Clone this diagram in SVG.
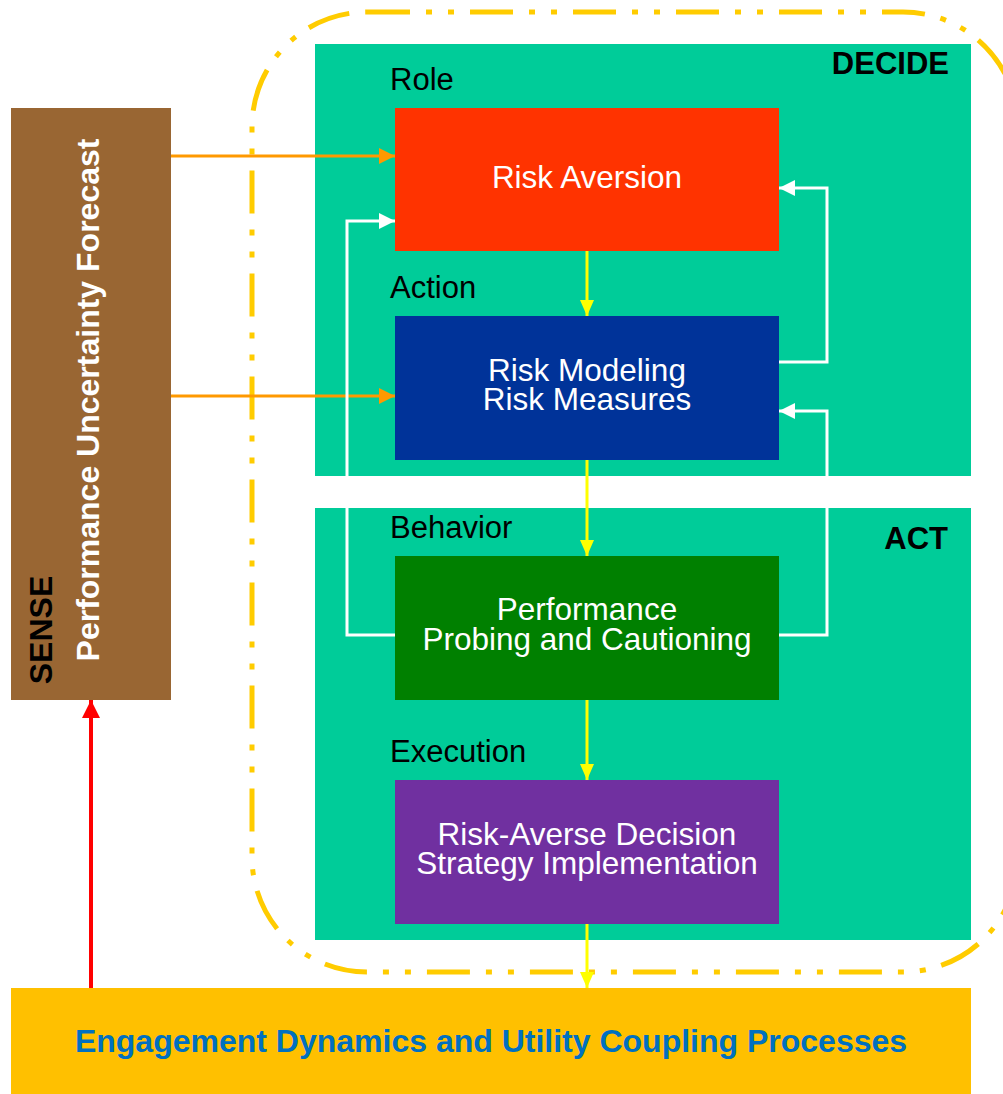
<svg xmlns="http://www.w3.org/2000/svg" width="1003" height="1094" viewBox="0 0 1003 1094">
  <style>
    text { font-family: "Liberation Sans", Arial, sans-serif; font-size: 32px; }
    .lbl { fill: #000000; font-size: 31px; }
    .hdr { fill: #000000; font-weight: bold; text-anchor: end; font-size: 31px; }
    .box-text { fill: #ffffff; text-anchor: middle; font-size: 31.5px; }
    .panel { fill: #00CC99; }
    .c-orange { stroke: #FF9900; stroke-width: 3; fill: none; }
    .c-yellow { stroke: #FFFF00; stroke-width: 3; fill: none; }
    .c-white { stroke: #ffffff; stroke-width: 3; fill: none; }
    .c-red { stroke: #FF0000; stroke-width: 4; fill: none; }
  </style>
  <defs>
    <marker id="ah-orange" markerUnits="userSpaceOnUse" markerWidth="16" markerHeight="16" refX="16" refY="8" orient="auto">
      <path d="M0,0 L16,8 L0,16 Z" fill="#FF9900"/>
    </marker>
    <marker id="ah-yellow" markerUnits="userSpaceOnUse" markerWidth="16" markerHeight="16" refX="16" refY="8" orient="auto">
      <path d="M0,1 L16,8 L0,15 Z" fill="#FFFF00"/>
    </marker>
    <marker id="ah-white" markerUnits="userSpaceOnUse" markerWidth="16" markerHeight="16" refX="16" refY="8" orient="auto">
      <path d="M0,0 L16,8 L0,16 Z" fill="#ffffff"/>
    </marker>
    <marker id="ah-red" markerUnits="userSpaceOnUse" markerWidth="18" markerHeight="18" refX="18" refY="9" orient="auto">
      <path d="M0,0 L18,9 L0,18 Z" fill="#FF0000"/>
    </marker>
  </defs>

  <!-- dash-dot boundary of the decide/act loop (right edge runs past the canvas) -->
  <rect x="252" y="12" width="766" height="960" rx="115" ry="115" fill="none" stroke="#FFCC00" stroke-width="5" stroke-dasharray="43 16 6 16 6 16"/>

  <!-- stage panels -->
  <g id="decide-panel">
    <rect class="panel" x="315" y="44" width="656" height="432"/>
    <text class="hdr" x="949" y="74">DECIDE</text>
  </g>
  <g id="act-panel">
    <rect class="panel" x="315" y="508" width="656" height="432"/>
    <text class="hdr" x="948" y="549">ACT</text>
  </g>

  <!-- sense column -->
  <g id="sense">
    <rect x="11" y="108" width="160" height="592" fill="#996633"/>
    <text transform="translate(52,630) rotate(-90)" text-anchor="middle" font-weight="bold" fill="#000000" font-size="31">SENSE</text>
    <text transform="translate(99,400) rotate(-90)" text-anchor="middle" font-weight="bold" fill="#ffffff">Performance Uncertainty Forecast</text>
  </g>

  <g id="role">
    <text class="lbl" x="390" y="90">Role</text>
    <rect x="395" y="108" width="384" height="143" fill="#FF3300"/>
    <text class="box-text" x="587" y="188">Risk Aversion</text>
  </g>

  <g id="action">
    <text class="lbl" x="390" y="298">Action</text>
    <rect x="395" y="316" width="384" height="144" fill="#003399"/>
    <text class="box-text" x="587" y="381">Risk Modeling</text>
    <text class="box-text" x="587" y="410">Risk Measures</text>
  </g>

  <g id="behavior">
    <text class="lbl" x="390" y="538">Behavior</text>
    <rect x="395" y="556" width="384" height="144" fill="#008000"/>
    <text class="box-text" x="587" y="620">Performance</text>
    <text class="box-text" x="587" y="650">Probing and Cautioning</text>
  </g>

  <g id="execution">
    <text class="lbl" x="390" y="762">Execution</text>
    <rect x="395" y="780" width="384" height="144" fill="#7030A0"/>
    <text class="box-text" x="587" y="845">Risk-Averse Decision</text>
    <text class="box-text" x="587" y="874">Strategy Implementation</text>
  </g>

  <g id="engagement">
    <rect x="11" y="988" width="960" height="106" fill="#FFC000"/>
    <text x="491" y="1052" text-anchor="middle" font-weight="bold" fill="#0070C0">Engagement Dynamics and Utility Coupling Processes</text>
  </g>

  <!-- connectors -->
  <g id="connectors">
    <path class="c-orange" d="M171,156 H395" marker-end="url(#ah-orange)"/>
    <path class="c-orange" d="M171,396 H395" marker-end="url(#ah-orange)"/>

    <path class="c-yellow" d="M587,251 V316" marker-end="url(#ah-yellow)"/>
    <path class="c-yellow" d="M587,460 V556" marker-end="url(#ah-yellow)"/>
    <path class="c-yellow" d="M587,700 V780" marker-end="url(#ah-yellow)"/>
    <path class="c-yellow" d="M587,924 V988" marker-end="url(#ah-yellow)"/>

    <path class="c-white" d="M395,635 H347 V221 H395" marker-end="url(#ah-white)"/>
    <path class="c-white" d="M779,362 H827 V188 H779" marker-end="url(#ah-white)"/>
    <path class="c-white" d="M779,635 H827 V411 H779" marker-end="url(#ah-white)"/>

    <path class="c-red" d="M91,988 V700" marker-end="url(#ah-red)"/>
  </g>
</svg>
